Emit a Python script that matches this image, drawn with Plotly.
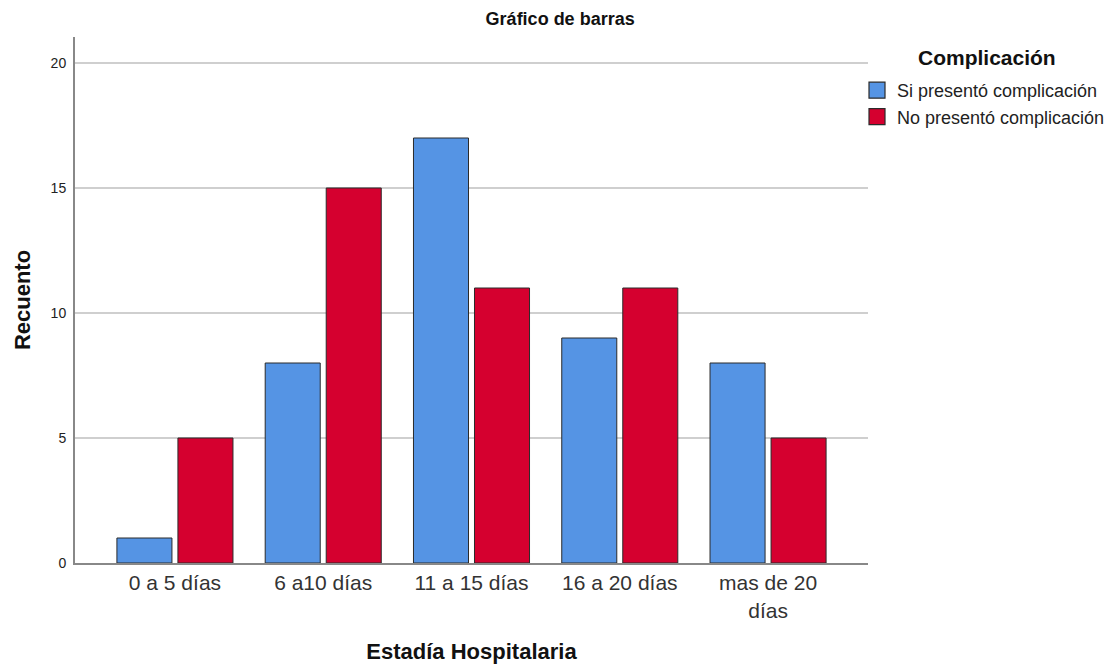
import plotly.graph_objects as go

# Hospital stay categories and counts per complication group
categorias = ["0 a 5 días", "6 a10 días", "11 a 15 días", "16 a 20 días", "mas de 20<br>días"]
si_complicacion = [1, 8, 17, 9, 8]
no_complicacion = [5, 15, 11, 11, 5]
series_nombres = ["Si presentó complicación", "No presentó complicación"]
y_ticks = [0, 5, 10, 15, 20]

FONT = "Liberation Sans, Arial, sans-serif"
AZUL = "#5594E4"
ROJO = "#D5002F"
BORDE = "#2b2b2b"

fig = go.Figure()
for valores, nombre, color in [(si_complicacion, series_nombres[0], AZUL),
                               (no_complicacion, series_nombres[1], ROJO)]:
    fig.add_trace(go.Bar(
        x=categorias, y=valores, name=nombre, showlegend=False, legendgroup=nombre,
        marker=dict(color=color, line=dict(color=BORDE, width=1)),
    ))

# Legend entries with larger square swatches
for nombre, color in [(series_nombres[0], AZUL), (series_nombres[1], ROJO)]:
    fig.add_trace(go.Scatter(
        x=[None], y=[None], mode="markers", name=nombre, legendgroup=nombre,
        marker=dict(symbol="square", size=16, color=color, line=dict(color=BORDE, width=1.2)),
    ))

W, H = 1107, 666
fig.update_layout(
    width=W, height=H,
    margin=dict(l=75, r=239, t=37, b=103, autoexpand=False),
    paper_bgcolor="white", plot_bgcolor="white",
    barmode="group", bargap=0.177, bargroupgap=0.098,
    font=dict(family=FONT, color="#222"),
    title=dict(text="<b>Gráfico de barras</b>", x=0.506, xanchor="center",
               y=0.972, yanchor="middle", font=dict(size=18, color="#111")),
    showlegend=True,
    legend=dict(
        xref="container", yref="container",
        x=857 / W, xanchor="left", y=1 - 72 / H, yanchor="top",
        font=dict(size=18, color="#222"), itemwidth=30, tracegroupgap=0,
        bgcolor="rgba(0,0,0,0)",
    ),
    annotations=[dict(
        text="<b>Complicación</b>", xref="paper", yref="paper",
        x=(987 - 75) / 793, y=(563 - 58) / 526, xanchor="center", yanchor="middle",
        showarrow=False, font=dict(size=21, color="#111"),
    )],
    xaxis=dict(
        range=[-0.674, 4.674], showline=True, linecolor="#888", linewidth=2,
        ticks="", tickfont=dict(size=21, color="#333"),
        title=dict(text="<b>Estadía Hospitalaria</b>", font=dict(size=22, color="#111"), standoff=23),
        showgrid=False,
    ),
    yaxis=dict(
        range=[0, 21.04], tickvals=y_ticks, showline=True, linecolor="#888", linewidth=2,
        ticks="", tickfont=dict(size=14, color="#222"), ticklabelstandoff=4,
        showgrid=True, gridcolor="#cfcfcf", gridwidth=2, zeroline=False,
        title=dict(text="<b>Recuento</b>", font=dict(size=22, color="#111"), standoff=14),
    ),
)

fig.write_html("out.html")
